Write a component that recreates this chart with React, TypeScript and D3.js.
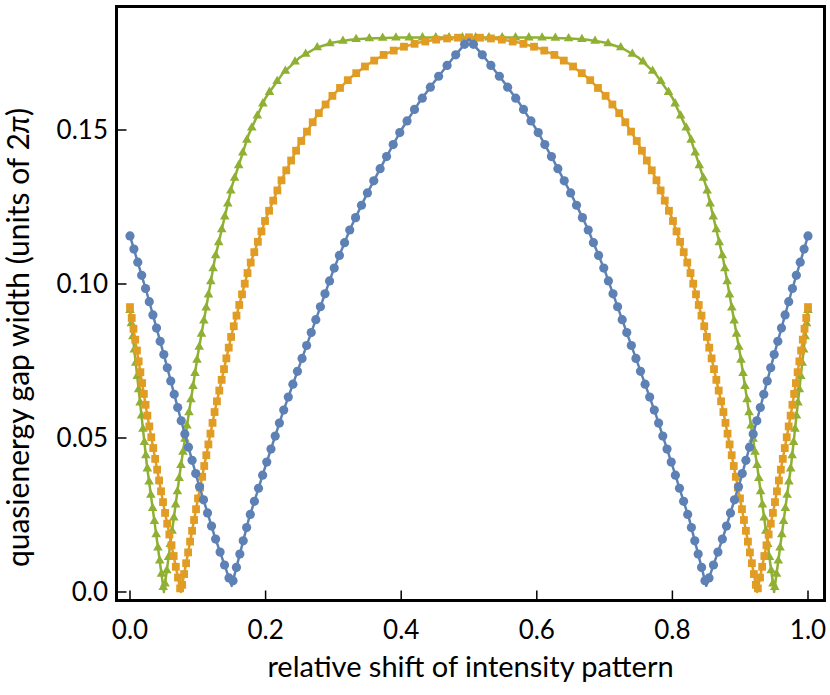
import React, { useEffect, useRef } from "react";
import * as d3 from "d3";

// relative shift of the intensity pattern (x)
const shift = [
  0, 0.025, 0.05, 0.075, 0.1, 0.125, 0.15, 0.175, 0.2, 0.225, 0.25, 0.275, 0.3, 0.325,
  0.35, 0.375, 0.4, 0.425, 0.45, 0.475, 0.5, 0.525, 0.55, 0.575, 0.6, 0.625, 0.65, 0.675,
  0.7, 0.725, 0.75, 0.775, 0.8, 0.825, 0.85, 0.875, 0.9, 0.925, 0.95, 0.975, 1,
];

// quasienergy gap width, units of 2pi
const gapBlue = [
  0.1156, 0.097, 0.077, 0.056, 0.036, 0.018, 0.002, 0.0235, 0.041, 0.058, 0.0735, 0.089,
  0.1045, 0.118, 0.1295, 0.14, 0.15, 0.1585, 0.166, 0.173, 0.1795, 0.173, 0.166, 0.1585,
  0.15, 0.14, 0.1295, 0.118, 0.1045, 0.089, 0.0735, 0.058, 0.041, 0.0235, 0.002, 0.018,
  0.036, 0.056, 0.077, 0.097, 0.1156,
];
const gapOrange = [
  0.0925, 0.058, 0.0276, 0.0, 0.03, 0.0587, 0.0837, 0.105, 0.121, 0.1345, 0.1455, 0.1545,
  0.1615, 0.167, 0.1712, 0.1745, 0.1768, 0.1783, 0.1793, 0.1799, 0.1801, 0.1799, 0.1793,
  0.1783, 0.1768, 0.1745, 0.1712, 0.167, 0.1615, 0.1545, 0.1455, 0.1345, 0.121, 0.105,
  0.0837, 0.0587, 0.03, 0.0, 0.0276, 0.058, 0.0925,
];
const gapGreen = [
  0.0915, 0.041, 0.0, 0.041, 0.077, 0.108, 0.1315, 0.1485, 0.1605, 0.1683, 0.1735, 0.1767,
  0.1784, 0.1793, 0.1797, 0.1799, 0.18, 0.18, 0.18, 0.18, 0.18, 0.18, 0.18, 0.18, 0.18,
  0.1799, 0.1797, 0.1793, 0.1784, 0.1767, 0.1735, 0.1683, 0.1605, 0.1485, 0.1315, 0.108,
  0.077, 0.041, 0.0, 0.041, 0.0915,
];

const xTicks = [0, 0.2, 0.4, 0.6, 0.8, 1.0];
const yTicks = [0, 0.05, 0.1, 0.15];

const xTitle = "relative shift of intensity pattern";
const yTitle = "quasienergy gap width (units of 2";

const style = {
  blue: { color: "#5E81B5", marker: "circle", spacing: 13.7 },
  orange: { color: "#E19C24", marker: "square", spacing: 11 },
  green: { color: "#8FB032", marker: "triangle", spacing: 13.3 },
};

const W = 830;
const H = 695;
const font = "Lato, 'Open Sans', sans-serif";

export default function App() {
  const svgRef = useRef<SVGSVGElement | null>(null);

  useEffect(() => {
    const svg = d3.select(svgRef.current);
    svg.selectAll("*").remove();

    const x = d3.scaleLinear().domain([0, 1]).range([130, 808]);
    const y = d3.scaleLinear().domain([0, 0.15]).range([592, 130]);
    const frame = { left: 116.5, right: 824.5, top: 6.5, bottom: 600.5 };

    const line = d3
      .line<number>()
      .x((d, i) => x(shift[i]))
      .y((d) => y(d));

    const all = [
      { key: "green", values: gapGreen },
      { key: "orange", values: gapOrange },
      { key: "blue", values: gapBlue },
    ];

    const plot = svg.append("g");
    all.forEach((s) => {
      const st = style[s.key];
      const path = plot
        .append("path")
        .attr("d", line(s.values))
        .attr("fill", "none")
        .attr("stroke", st.color)
        .attr("stroke-width", 2.5)
        .attr("stroke-linejoin", "round");

      // markers evenly spaced along the drawn curve
      const node = path.node() as SVGPathElement;
      const L = node.getTotalLength();
      const n = Math.round(L / st.spacing);
      const pts = d3.range(n + 1).map((k) => node.getPointAtLength((k * L) / n));
      const g = plot.append("g").attr("fill", st.color);
      if (st.marker === "circle") {
        g.selectAll("circle")
          .data(pts)
          .join("circle")
          .attr("cx", (p) => p.x)
          .attr("cy", (p) => p.y)
          .attr("r", 4.6);
      } else if (st.marker === "square") {
        g.selectAll("rect")
          .data(pts)
          .join("rect")
          .attr("x", (p) => p.x - 3.9)
          .attr("y", (p) => p.y - 3.9)
          .attr("width", 7.8)
          .attr("height", 7.8);
      } else {
        const tri = d3.symbol(d3.symbolTriangle, 40)();
        g.selectAll("path")
          .data(pts)
          .join("path")
          .attr("d", tri)
          .attr("transform", (p) => `translate(${p.x},${p.y})`);
      }
    });

    // frame
    svg
      .append("rect")
      .attr("x", frame.left)
      .attr("y", frame.top)
      .attr("width", frame.right - frame.left)
      .attr("height", frame.bottom - frame.top)
      .attr("fill", "none")
      .attr("stroke", "black")
      .attr("stroke-width", 3);

    // x ticks
    const gx = svg.append("g");
    gx.selectAll("line")
      .data(xTicks)
      .join("line")
      .attr("x1", (d) => x(d))
      .attr("x2", (d) => x(d))
      .attr("y1", frame.bottom)
      .attr("y2", frame.bottom - 10)
      .attr("stroke", "black")
      .attr("stroke-width", 1.5);
    gx.selectAll("text")
      .data(xTicks)
      .join("text")
      .attr("x", (d) => x(d))
      .attr("y", 639)
      .attr("text-anchor", "middle")
      .attr("font-family", font)
      .attr("font-size", 26)
      .text((d) => d3.format(".1f")(d));

    // y ticks
    const gy = svg.append("g");
    gy.selectAll("line")
      .data(yTicks)
      .join("line")
      .attr("x1", frame.left)
      .attr("x2", frame.left + 10)
      .attr("y1", (d) => y(d))
      .attr("y2", (d) => y(d))
      .attr("stroke", "black")
      .attr("stroke-width", 1.5);
    gy.selectAll("text")
      .data(yTicks)
      .join("text")
      .attr("x", 108)
      .attr("y", (d) => y(d))
      .attr("dy", "0.36em")
      .attr("text-anchor", "end")
      .attr("font-family", font)
      .attr("font-size", 26)
      .text((d) => (d === 0 ? "0.0" : d3.format(".2f")(d)));

    // titles
    svg
      .append("text")
      .attr("x", (frame.left + frame.right) / 2)
      .attr("y", 677)
      .attr("text-anchor", "middle")
      .attr("font-family", font)
      .attr("font-size", 29)
      .text(xTitle);

    const yt = svg
      .append("text")
      .attr("transform", `translate(29,${(frame.top + frame.bottom) / 2 + 34}) rotate(-90)`)
      .attr("text-anchor", "middle")
      .attr("font-family", font)
      .attr("font-size", 30);
    yt.append("tspan").text(yTitle);
    yt.append("tspan").attr("font-style", "italic").text("\u03c0");
    yt.append("tspan").text(")");
  }, []);

  return (
    <svg
      ref={svgRef}
      width={W}
      height={H}
      style={{ position: "absolute", left: 0, top: 0, background: "white" }}
    />
  );
}
